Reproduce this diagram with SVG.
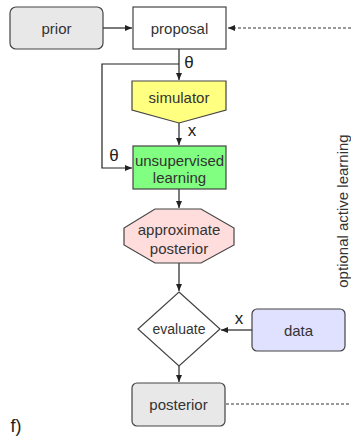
<svg xmlns="http://www.w3.org/2000/svg" width="351" height="440" viewBox="0 0 351 440">
<defs>
<marker id="ah" markerWidth="8" markerHeight="8" refX="7" refY="4" orient="auto" markerUnits="userSpaceOnUse">
<path d="M0,1 L7,4 L0,7 z" fill="#222"/>
</marker>
<style>
text{font-family:"Liberation Sans",Arial,sans-serif;font-size:15px;fill:#333;text-anchor:middle;dominant-baseline:central}
.n{stroke:#444;stroke-width:1.2}
.c{stroke:#222;stroke-width:1.2;fill:none}
.d{stroke:#333;stroke-width:1;fill:none;stroke-dasharray:3,2}
.lbl{font-size:17px;fill:#222}
</style>
</defs>
<rect width="351" height="440" fill="#fff"/>
<g id="connectors">
<line class="c" x1="103" y1="28" x2="132" y2="28" marker-end="url(#ah)"/>
<line class="d" x1="351" y1="28" x2="228" y2="28" marker-end="url(#ah)"/>
<line class="c" x1="179" y1="49" x2="179" y2="80" marker-end="url(#ah)"/>
<polyline class="c" points="179,64 102,64 102,168 132,168" marker-end="url(#ah)"/>
<line class="c" x1="179" y1="123" x2="179" y2="145" marker-end="url(#ah)"/>
<line class="c" x1="179" y1="189" x2="179" y2="208" marker-end="url(#ah)"/>
<line class="c" x1="179" y1="263" x2="179" y2="291" marker-end="url(#ah)"/>
<line class="c" x1="252" y1="330" x2="221" y2="330" marker-end="url(#ah)"/>
<line class="c" x1="179" y1="366" x2="179" y2="382" marker-end="url(#ah)"/>
<line class="d" x1="226" y1="404" x2="351" y2="404"/>
<text class="lbl" x="189" y="62">θ</text>
<text class="lbl" x="114" y="155">θ</text>
<text class="lbl" x="192" y="130">x</text>
<text class="lbl" x="239" y="318">x</text>
</g>
<g id="prior">
<rect class="n" x="10" y="7" width="93" height="42" rx="6" fill="#e8e8e8"/>
<text x="56.5" y="28">prior</text>
</g>
<g id="proposal">
<rect class="n" x="133" y="7" width="93" height="42" fill="#fff"/>
<text x="179.5" y="28">proposal</text>
</g>
<g id="simulator">
<polygon class="n" points="132,81 226,81 226,110 179,123 132,110" fill="#ffff80"/>
<text x="179" y="97">simulator</text>
</g>
<g id="unsupervised">
<rect class="n" x="133" y="146" width="93" height="43" fill="#80ff80"/>
<text x="179.5" y="160">unsupervised</text>
<text x="179.5" y="177">learning</text>
</g>
<g id="approx">
<polygon class="n" points="155,209 201,209 234,228 234,245 201,263 155,263 124,245 124,228" fill="#ffdddd"/>
<text x="179" y="229">approximate</text>
<text x="179" y="248">posterior</text>
</g>
<g id="evaluate">
<polygon class="n" points="179,292 220,329 179,366 138,329" fill="#fff"/>
<text x="179" y="329" style="font-size:14px">evaluate</text>
</g>
<g id="data">
<rect class="n" x="252" y="309" width="93" height="42" rx="5" fill="#e0e0ff"/>
<text x="298.5" y="330">data</text>
</g>
<g id="posterior">
<rect class="n" x="132" y="383" width="93" height="43" rx="5" fill="#e8e8e8"/>
<text x="178.5" y="404.5">posterior</text>
</g>
<text x="342" y="211" transform="rotate(-90 342 211)">optional active learning</text>
<text x="16" y="426" style="font-size:18px;fill:#222">f)</text>
</svg>
